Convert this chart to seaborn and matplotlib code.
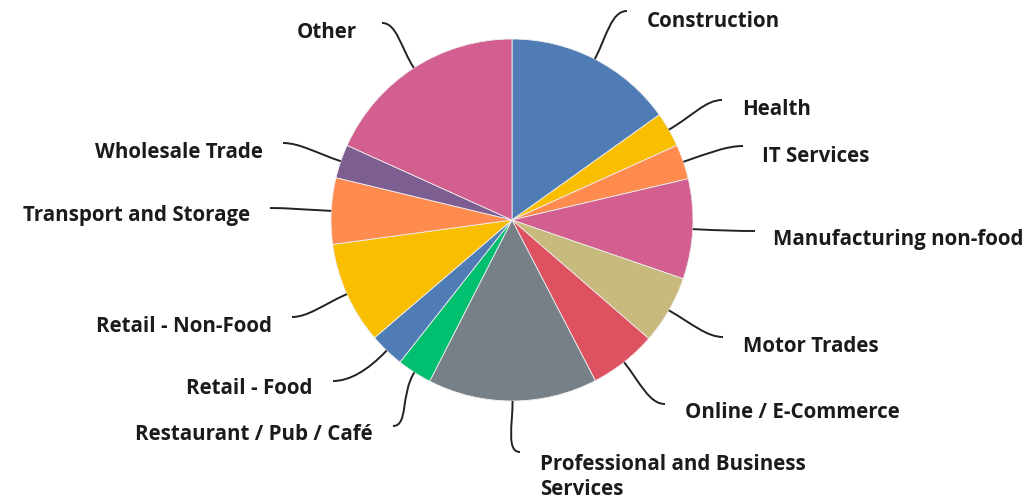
import numpy as np
import matplotlib
matplotlib.use("Agg")
import matplotlib.pyplot as plt
from matplotlib.path import Path
from matplotlib.patches import PathPatch
import seaborn as sns

# ---- data ----
categories = ["Construction", "Health", "IT Services", "Manufacturing non-food",
              "Motor Trades", "Online / E-Commerce", "Professional and Business\nServices",
              "Restaurant / Pub / Café", "Retail - Food", "Retail - Non-Food",
              "Transport and Storage", "Wholesale Trade", "Other"]
shares = [15.1, 3.1, 3.1, 8.9, 6.1, 6.0, 15.1, 3.1, 3.1, 9.1, 5.9, 3.0, 18.2]
colors = ["#507cb6", "#f9be00", "#ff8b4f", "#d25f90", "#c8b97c", "#dd5161",
          "#788087", "#00bf6f", "#507cb6", "#f9be00", "#ff8b4f", "#7d5e90", "#d25f90"]

# ---- layout (pixel positions of label anchors / leader ends) ----
label_pos = [(647, 21), (742, 109), (762, 156), (773, 240), (743, 346), (685, 413),
             (540, 477), (373, 434), (313, 388), (272, 326), (250, 216), (263, 152), (357, 32)]
leader_end = [(627, 12), (722, 101), (743, 147), (755, 232), (723, 338), (665, 405),
              (520, 453), (393, 427), (333, 382), (292, 318), (270, 209), (283, 144), (382, 24)]

W, H = 1030, 502
CX, CY, R = 512, 221, 181

sns.set_theme(style="white")
plt.rcParams["font.family"] = ["Open Sans", "DejaVu Sans"]

fig = plt.figure(figsize=(W / 100, H / 100), dpi=100)
ax = fig.add_axes([0, 0, 1, 1])

def px2d(px, py):
    return (px - CX) / R, (CY - py) / R

wedges, _ = ax.pie(shares, colors=colors, startangle=90, counterclock=False,
                   radius=1.0, center=(0, 0),
                   wedgeprops=dict(linewidth=0.6, edgecolor="#eeeeee"))
ax.set_aspect("auto")
ax.set_xlim(px2d(0, 0)[0], px2d(W, 0)[0])
ax.set_ylim(px2d(0, H)[1], px2d(0, 0)[1])
ax.axis("off")

for w, lab, lp, le in zip(wedges, categories, label_pos, leader_end):
    ang = np.deg2rad((w.theta1 + w.theta2) / 2)
    p0 = np.array([np.cos(ang), np.sin(ang)])
    p3 = np.array(px2d(*le))
    tx, ty = px2d(*lp)
    right = tx > 0
    d = np.linalg.norm(p3 - p0)
    k = 0.45 * d
    p1 = p0 + np.array([np.cos(ang), np.sin(ang)]) * k
    p2 = p3 - np.array([1.0 if right else -1.0, 0.0]) * k * 0.6
    path = Path([p0, p1, p2, p3], [Path.MOVETO, Path.CURVE4, Path.CURVE4, Path.CURVE4])
    ax.add_patch(PathPatch(path, facecolor="none", edgecolor="#222222", lw=1.4))
    ax.text(tx, ty, lab, ha="left" if right else "right", va="center",
            fontsize=14.8, fontweight="bold", color="#1b1b1b", linespacing=1.3)

fig.savefig("out.png", dpi=100, facecolor="white")
